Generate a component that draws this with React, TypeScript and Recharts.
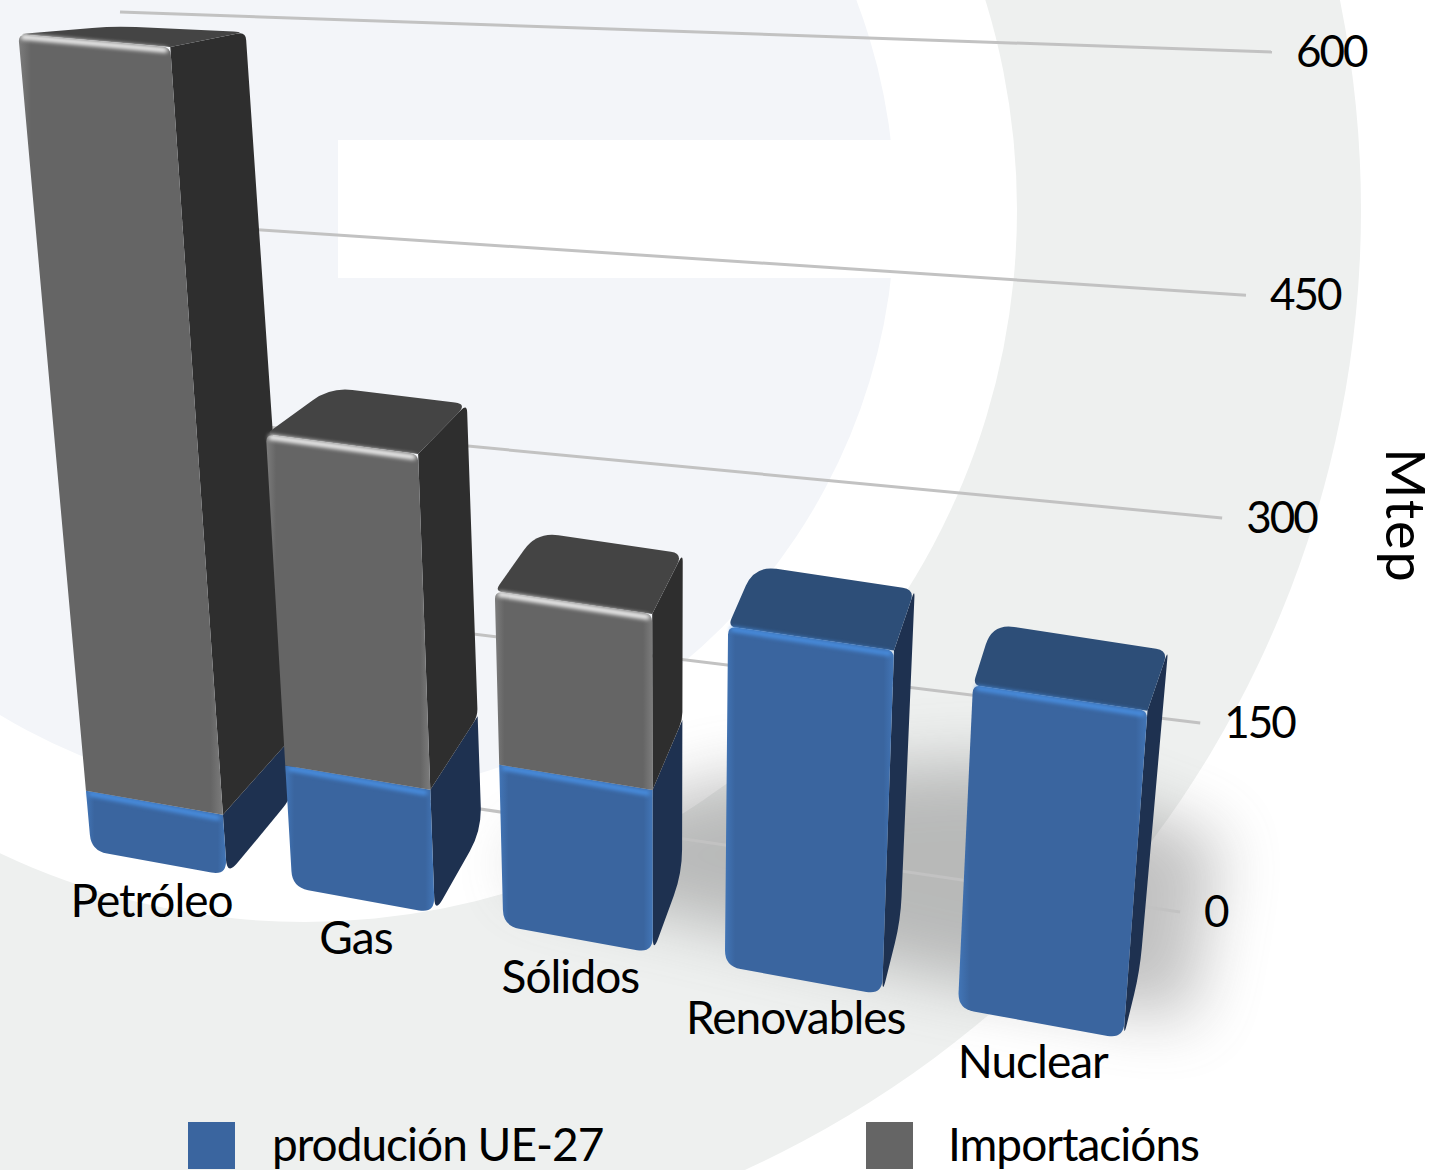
import { BarChart, Bar, XAxis, YAxis, CartesianGrid, Legend, usePlotArea } from 'recharts';

const categories = ['Petróleo', 'Gas', 'Sólidos', 'Renovables', 'Nuclear'];
const producion = [49, 97, 125, 252, 236];
const importacions = [549, 246, 128, 0, 0];
const yTicks = [0, 150, 300, 450, 600];

const tableData = categories.map((name, i) => ({
  name,
  producion: producion[i],
  importacions: importacions[i],
}));

const FONT = 'Lato, sans-serif';
const BLUE = { front: '#3a659f', light: '#4275b6', top: '#2d4e78', side: '#1e3150', shine: '#4a92e6' };
const GREY = { front: '#656565', light: '#7c7c7c', top: '#444444', side: '#2e2e2e', shine: '#ffffff' };

type Pt = [number, number];

// maps the unit square (u along the categories, v up the value axis) onto a screen quad
function homography(p00: Pt, p10: Pt, p11: Pt, p01: Pt) {
  const dx1 = p10[0] - p11[0];
  const dx2 = p01[0] - p11[0];
  const sx = p00[0] - p10[0] + p11[0] - p01[0];
  const dy1 = p10[1] - p11[1];
  const dy2 = p01[1] - p11[1];
  const sy = p00[1] - p10[1] + p11[1] - p01[1];
  const den = dx1 * dy2 - dx2 * dy1;
  const g = (sx * dy2 - dx2 * sy) / den;
  const h = (dx1 * sy - sx * dy1) / den;
  const a = p10[0] - p00[0] + g * p10[0];
  const b = p01[0] - p00[0] + h * p01[0];
  const d = p10[1] - p00[1] + g * p10[1];
  const e = p01[1] - p00[1] + h * p01[1];
  return (u: number, v: number): Pt => {
    const w = g * u + h * v + 1;
    return [(a * u + b * v + p00[0]) / w, (d * u + e * v + p00[1]) / w];
  };
}

const frontPlane = homography([60, 845], [1163, 1046], [1236, 135], [-17, 28]);
const backPlane = homography([153, 760], [1180, 980], [1267, 74], [84, 22]);
const wallPlane = homography([195, 767], [1180, 912], [1272, 52], [120, 12]);

function roundPath(points: Pt[], radii: number[]) {
  const n = points.length;
  let d = '';
  points.forEach((p, i) => {
    const prev = points[(i + n - 1) % n];
    const next = points[(i + 1) % n];
    const r = radii[i];
    const lenA = Math.hypot(prev[0] - p[0], prev[1] - p[1]) || 1;
    const lenB = Math.hypot(next[0] - p[0], next[1] - p[1]) || 1;
    const ra = Math.min(r, lenA / 2);
    const rb = Math.min(r, lenB / 2);
    const a: Pt = [p[0] + ((prev[0] - p[0]) * ra) / lenA, p[1] + ((prev[1] - p[1]) * ra) / lenA];
    const b: Pt = [p[0] + ((next[0] - p[0]) * rb) / lenB, p[1] + ((next[1] - p[1]) * rb) / lenB];
    d += `${i === 0 ? 'M' : 'L'}${a[0]},${a[1]} Q${p[0]},${p[1]} ${b[0]},${b[1]} `;
  });
  return d + 'Z';
}

function Box3D(props: any) {
  const { x, y, width, height, payload, index, dataKey } = props;
  const plot = usePlotArea();
  if (!plot || !height || height <= 0) return null;
  const isBlue = dataKey === 'producion';
  const c = isBlue ? BLUE : GREY;
  const isTop = !isBlue || payload.importacions === 0;
  const bottom = plot.y + plot.height;
  const uL = (x - plot.x) / plot.width;
  const uR = (x + width - plot.x) / plot.width;
  const vT = (bottom - y) / plot.height;
  const vB = (bottom - y - height) / plot.height;

  const fBL = frontPlane(uL, vB);
  const fBR = frontPlane(uR, vB);
  const fTR = frontPlane(uR, vT);
  const fTL = frontPlane(uL, vT);
  const bBR = backPlane(uR, vB);
  const bTR = backPlane(uR, vT);
  const bTL = backPlane(uL, vT);
  const gradId = `front-${dataKey}-${index}`;
  const lowR = isBlue ? 16 : 0;
  const upR = isTop ? 8 : 0;

  return (
    <g>
      <defs>
        <linearGradient id={gradId} x1="0" y1="0" x2="1" y2="0">
          <stop offset="0" stopColor={c.light} />
          <stop offset="0.06" stopColor={c.front} />
          <stop offset="0.94" stopColor={c.front} />
          <stop offset="1" stopColor={c.light} />
        </linearGradient>
      </defs>
      <path d={roundPath([fTR, bTR, bBR, fBR], [0, upR, lowR + 8, lowR])} fill={c.side} />
      {isTop && <path d={roundPath([fTL, fTR, bTR, bTL], [upR, 0, upR + 4, upR + 14])} fill={c.top} />}
      <path d={roundPath([fTL, fTR, fBR, fBL], [upR, upR, lowR, lowR])} fill={`url(#${gradId})`} />
      <line
        x1={fTL[0] + 5}
        y1={fTL[1] + 3}
        x2={fTR[0] - 5}
        y2={fTR[1] + 3}
        stroke={c.shine}
        strokeWidth={5}
        strokeLinecap="round"
        style={{ filter: 'blur(2px)' }}
      />
    </g>
  );
}

function WallLine(props: any) {
  const { y1 } = props;
  const plot = usePlotArea();
  if (!plot) return null;
  const v = (plot.y + plot.height - y1) / plot.height;
  const a = wallPlane(0, v);
  const b = wallPlane(1, v);
  return <line x1={a[0]} y1={a[1]} x2={b[0]} y2={b[1]} stroke="#c2c2c2" strokeWidth={3} />;
}

function ValueTick(props: any) {
  const { y, payload } = props;
  const plot = usePlotArea();
  if (!plot) return null;
  const v = (plot.y + plot.height - y) / plot.height;
  const p = wallPlane(1, v);
  return (
    <text x={p[0] + 24} y={p[1]} dy={15} fontFamily={FONT} fontSize={44} letterSpacing={-2} fill="#000" textAnchor="start">
      {payload.value}
    </text>
  );
}

function CategoryTick(props: any) {
  const { x, payload } = props;
  const plot = usePlotArea();
  if (!plot) return null;
  const u = (x - plot.x) / plot.width;
  const p = frontPlane(u, 0);
  return (
    <text x={p[0] - 7} y={p[1] + 54} fontFamily={FONT} fontSize={46} letterSpacing={-1} fill="#000" textAnchor="middle">
      {payload.value}
    </text>
  );
}

function LegendBlock({ payload }: any) {
  const spots = [188, 866];
  return (
    <div style={{ position: 'relative', width: 1440, height: 48, fontFamily: FONT, fontSize: 46, color: '#000' }}>
      {(payload || []).map((entry: any, i: number) => (
        <div key={entry.value} style={{ position: 'absolute', left: spots[i], top: 0, display: 'flex', alignItems: 'center', height: 47 }}>
          <div style={{ width: 47, height: 47, background: entry.color, marginRight: i === 0 ? 37 : 35 }} />
          <span style={{ letterSpacing: -1, lineHeight: '46px', marginTop: -4 }}>{entry.value}</span>
        </div>
      ))}
    </div>
  );
}

function Backdrop() {
  const cx = 305;
  const cy = 210;
  return (
    <svg width={1440} height={1170} style={{ position: 'absolute', left: 0, top: 0 }}>
      <defs>
        <filter id="floor" x="-30%" y="-30%" width="160%" height="160%">
          <feGaussianBlur stdDeviation="32" />
        </filter>
      </defs>
      <rect width={1440} height={1170} fill="#fff" />
      <circle cx={cx} cy={cy} r={1056} fill="#eef0ef" />
      <circle cx={cx} cy={cy} r={712} fill="#fff" />
      <circle cx={cx} cy={cy} r={590} fill="#f3f5f9" />
      <rect x={338} y={140} width={620} height={138} fill="#fff" />
      <polygon
        points="520,850 720,780 1000,760 1220,840 1190,1020 950,980 520,880"
        fill="#6e6e6e"
        opacity={0.42}
        filter="url(#floor)"
      />
    </svg>
  );
}

export default function App() {
  return (
    <div style={{ position: 'absolute', left: 0, top: 0, width: 1440, height: 1170, overflow: 'hidden' }}>
      <Backdrop />
      <div style={{ position: 'absolute', left: 0, top: 0 }}>
        <BarChart
          width={1440}
          height={1170}
          data={tableData}
          barCategoryGap="16%"
          margin={{ top: 100, right: 60, bottom: 20, left: 100 }}
        >
          <CartesianGrid vertical={false} syncWithTicks horizontal={(p: any) => <WallLine key={p.key} y1={p.y1} />} />
          <XAxis dataKey="name" axisLine={false} tickLine={false} interval={0} tick={(p: any) => <CategoryTick {...p} />} />
          <YAxis
            orientation="right"
            width={60}
            domain={[0, 600]}
            ticks={yTicks}
            axisLine={false}
            tickLine={false}
            tick={(p: any) => <ValueTick {...p} />}
            label={{
              content: () => (
                <text
                  transform="translate(1386,516) rotate(90)"
                  fontFamily={FONT}
                  fontSize={54}
                  letterSpacing={2}
                  fill="#000"
                  textAnchor="middle"
                >
                  Mtep
                </text>
              ),
            }}
          />
          <Legend
            verticalAlign="bottom"
            itemSorter={(item: any) => (item.dataKey === 'producion' ? 0 : 1)}
            wrapperStyle={{ left: 0, top: 1122, width: 1440, height: 48 }}
            content={<LegendBlock />}
          />
          <Bar dataKey="producion" name="produción UE-27" stackId="a" fill={BLUE.front} isAnimationActive={false} shape={<Box3D />} />
          <Bar dataKey="importacions" name="Importacións" stackId="a" fill={GREY.front} isAnimationActive={false} shape={<Box3D />} />
        </BarChart>
      </div>
    </div>
  );
}
